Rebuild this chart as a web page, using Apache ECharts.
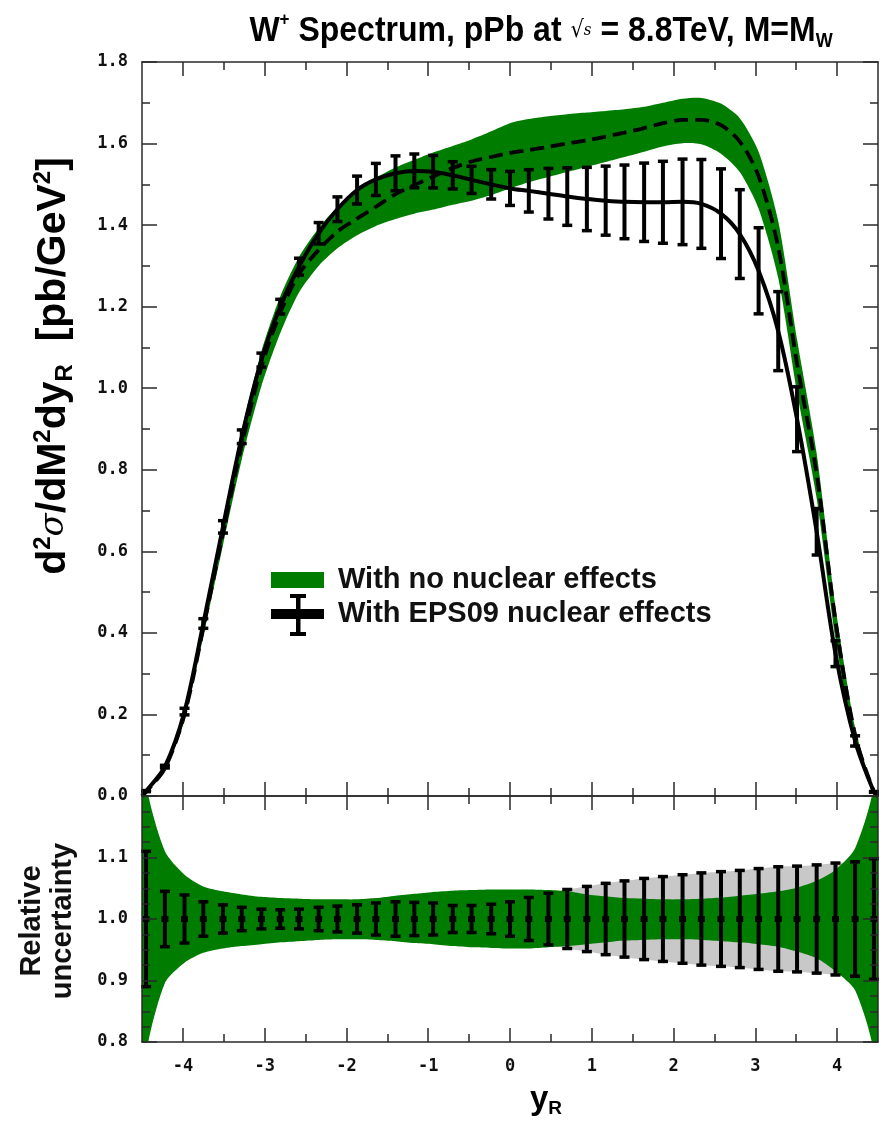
<!DOCTYPE html>
<html>
<head>
<meta charset="utf-8">
<script src="https://cdn.jsdelivr.net/npm/echarts@6/dist/echarts.min.js"></script>
<style>
  html, body { margin: 0; padding: 0; background: #ffffff; }
  #chart { width: 890px; height: 1122px; }
</style>
</head>
<body>
<div id="chart"></div>
<script>
// Rapidity grid (y_R) on which the spectra are evaluated
const rapidity = [-4.5, -4.45, -4.22, -3.98, -3.75, -3.51, -3.28, -3.04, -2.81, -2.58, -2.34, -2.11, -1.87, -1.64, -1.40, -1.17, -0.94, -0.70, -0.47, -0.23, 0.00, 0.23, 0.47, 0.70, 0.94, 1.17, 1.40, 1.64, 1.87, 2.11, 2.34, 2.58, 2.81, 3.04, 3.28, 3.51, 3.75, 3.98, 4.22, 4.45, 4.5];

// d2sigma/dM2dy_R [pb/GeV^2], central value with EPS09 nuclear effects
const eps09Central = [0, 0.012, 0.072, 0.207, 0.423, 0.660, 0.881, 1.069, 1.200, 1.298, 1.380, 1.439, 1.486, 1.512, 1.527, 1.533, 1.531, 1.522, 1.511, 1.500, 1.490, 1.484, 1.477, 1.470, 1.464, 1.460, 1.457, 1.456, 1.456, 1.457, 1.452, 1.428, 1.378, 1.288, 1.140, 0.924, 0.648, 0.349, 0.135, 0.010, 0];

// central value with no nuclear effects
const noNuclearCentral = [0, 0.010, 0.068, 0.200, 0.412, 0.645, 0.862, 1.052, 1.185, 1.280, 1.339, 1.384, 1.416, 1.445, 1.476, 1.498, 1.519, 1.540, 1.556, 1.567, 1.577, 1.584, 1.592, 1.600, 1.608, 1.617, 1.627, 1.638, 1.650, 1.658, 1.658, 1.645, 1.605, 1.520, 1.345, 1.060, 0.790, 0.430, 0.150, 0.010, 0];

// uncertainty band of the no-nuclear-effects spectrum (upper / lower edge)
const noNuclearBandUpper = [0, 0.012, 0.075, 0.214, 0.432, 0.676, 0.897, 1.090, 1.225, 1.322, 1.392, 1.445, 1.487, 1.516, 1.541, 1.560, 1.578, 1.594, 1.610, 1.630, 1.650, 1.660, 1.667, 1.672, 1.676, 1.680, 1.684, 1.690, 1.700, 1.710, 1.712, 1.698, 1.662, 1.580, 1.410, 1.120, 0.840, 0.465, 0.168, 0.012, 0];
const noNuclearBandLower = [0, 0.008, 0.061, 0.186, 0.392, 0.615, 0.825, 1.005, 1.135, 1.235, 1.300, 1.343, 1.375, 1.398, 1.415, 1.428, 1.438, 1.450, 1.460, 1.474, 1.490, 1.505, 1.518, 1.530, 1.543, 1.555, 1.567, 1.580, 1.593, 1.601, 1.598, 1.575, 1.530, 1.440, 1.270, 0.990, 0.730, 0.385, 0.130, 0.008, 0];

// relative uncertainty band, no nuclear effects (upper / lower edge)
const noNuclearRelUpper = [1.50, 1.224, 1.110, 1.072, 1.053, 1.045, 1.040, 1.036, 1.034, 1.033, 1.032, 1.032, 1.032, 1.034, 1.038, 1.041, 1.044, 1.046, 1.047, 1.048, 1.048, 1.048, 1.047, 1.045, 1.040, 1.037, 1.034, 1.033, 1.032, 1.032, 1.033, 1.035, 1.038, 1.041, 1.045, 1.051, 1.062, 1.080, 1.115, 1.220, 1.50];
const noNuclearRelLower = [0.50, 0.776, 0.896, 0.929, 0.945, 0.952, 0.956, 0.959, 0.962, 0.964, 0.966, 0.967, 0.967, 0.966, 0.964, 0.961, 0.959, 0.956, 0.954, 0.953, 0.952, 0.952, 0.954, 0.956, 0.959, 0.962, 0.965, 0.966, 0.967, 0.967, 0.966, 0.964, 0.962, 0.959, 0.955, 0.947, 0.936, 0.915, 0.884, 0.780, 0.50];

// symmetric relative uncertainty with EPS09 nuclear effects
const eps09RelError = [0.110, 0.110, 0.045, 0.039, 0.028, 0.023, 0.019, 0.016, 0.015, 0.016, 0.019, 0.021, 0.023, 0.026, 0.028, 0.027, 0.026, 0.022, 0.022, 0.024, 0.028, 0.035, 0.042, 0.048, 0.053, 0.058, 0.062, 0.066, 0.069, 0.072, 0.075, 0.077, 0.079, 0.082, 0.085, 0.086, 0.088, 0.091, 0.093, 0.098, 0.098];

// axes
const xRange = [-4.5, 4.5];
const xMajorTicks = [-4, -3, -2, -1, 0, 1, 2, 3, 4];
const xMinorTicks = [-3.5, -2.5, -1.5, -0.5, 0.5, 1.5, 2.5, 3.5];
const spectrumTickLabels = [0, 0.2, 0.4, 0.6, 0.8, 1.0, 1.2, 1.4, 1.6, 1.8];
const ratioTickLabels = [0.8, 0.9, 1.0, 1.1];

const GREEN = '#007d00';
const GRAY = '#c8c8c8';
const FRAME = '#2a2a2a';
const TEXT = '#111111';
const SANS = 'Liberation Sans, Arial, Helvetica, sans-serif';
const tickFont = { fontFamily: 'DejaVu Sans Mono', fontWeight: 'bold', fontSize: 17, color: TEXT };

// derived series tables
const zip = (xs, ys) => xs.map((x, i) => [x, ys[i]]);
const grayUpper = eps09RelError.map(e => 1 + e);
const grayLower = eps09RelError.map(e => 1 - e);
const barIdx = rapidity.map((x, i) => i).filter(i => Math.abs(rapidity[i]) < 4.5);
const spectrumBars = barIdx.map(i => [rapidity[i], eps09Central[i] * (1 - eps09RelError[i]), eps09Central[i] * (1 + eps09RelError[i]), eps09Central[i]]);
const ratioBars = barIdx.map(i => [rapidity[i], 1 - eps09RelError[i], 1 + eps09RelError[i], 1]);

const tickLine = { color: FRAME, width: 1.5 };

function xAxesFor(gridIndex, withLabels) {
  const base = { type: 'value', gridIndex, min: xRange[0], max: xRange[1], splitLine: { show: false }, z: 10 };
  const line = { show: true, onZero: false, lineStyle: { color: FRAME, width: 1.5 } };
  return [
    Object.assign({}, base, { position: 'bottom', axisLine: line,
      axisTick: { show: true, inside: true, length: 14, customValues: xMajorTicks, lineStyle: tickLine },
      axisLabel: Object.assign({ show: withLabels, customValues: xMajorTicks, margin: 16 }, tickFont) }),
    Object.assign({}, base, { position: 'bottom', axisLine: { show: false, onZero: false },
      axisTick: { show: true, inside: true, length: 8, customValues: xMinorTicks, lineStyle: tickLine },
      axisLabel: { show: false } }),
    Object.assign({}, base, { position: 'top', axisLine: line,
      axisTick: { show: true, inside: true, length: 14, customValues: xMajorTicks, lineStyle: tickLine },
      axisLabel: { show: false } }),
    Object.assign({}, base, { position: 'top', axisLine: { show: false, onZero: false },
      axisTick: { show: true, inside: true, length: 8, customValues: xMinorTicks, lineStyle: tickLine },
      axisLabel: { show: false } })
  ];
}

function yAxesFor(gridIndex, min, max, interval, minorSplit, labels) {
  const base = { type: 'value', gridIndex, min, max, interval, splitLine: { show: false }, z: 10,
    axisLine: { show: true, onZero: false, lineStyle: { color: FRAME, width: 1.5 } },
    axisTick: { show: true, inside: true, length: 15, lineStyle: tickLine },
    minorTick: { show: true, splitNumber: minorSplit, length: 8, lineStyle: tickLine },
    minorSplitLine: { show: false } };
  return [
    Object.assign({}, base, { position: 'left',
      axisLabel: Object.assign({ show: true, customValues: labels, margin: 14, formatter: v => v.toFixed(1) }, tickFont) }),
    Object.assign({}, base, { position: 'right', axisLabel: { show: false } })
  ];
}

// filled band between two edges, drawn through the axis scales
function bandSeries(xAxisIndex, yAxisIndex, lower, upper, color, z) {
  return {
    type: 'custom', xAxisIndex, yAxisIndex, z, silent: true,
    data: [[rapidity[0], lower[0]]],
    renderItem(params, api) {
      const pts = [];
      for (let i = 0; i < rapidity.length; i++) pts.push(api.coord([rapidity[i], upper[i]]));
      const closeEnds = upper[0] === lower[0];
      const start = closeEnds ? rapidity.length - 2 : rapidity.length - 1;
      const end = closeEnds ? 1 : 0;
      for (let i = start; i >= end; i--) pts.push(api.coord([rapidity[i], lower[i]]));
      const cs = params.coordSys;
      return {
        type: 'polygon',
        shape: { points: pts, smooth: 0.25 },
        style: { fill: color, stroke: null },
        clipPath: { type: 'rect', shape: { x: cs.x, y: cs.y, width: cs.width, height: cs.height } }
      };
    }
  };
}

// vertical error bars with caps; data rows are [x, low, high, centre]
function errorBarSeries(xAxisIndex, yAxisIndex, rows, withDot, z) {
  return {
    type: 'custom', xAxisIndex, yAxisIndex, z, silent: true,
    data: rows,
    encode: { x: 0, y: [1, 2] },
    renderItem(params, api) {
      const x = api.value(0);
      const lo = api.coord([x, api.value(1)]);
      const hi = api.coord([x, api.value(2)]);
      const mid = api.coord([x, api.value(3)]);
      const cap = 5;
      const children = [
        { type: 'line', shape: { x1: lo[0], y1: lo[1], x2: hi[0], y2: hi[1] }, style: { stroke: '#000', lineWidth: 4 } },
        { type: 'line', shape: { x1: hi[0] - cap, y1: hi[1], x2: hi[0] + cap, y2: hi[1] }, style: { stroke: '#000', lineWidth: 3.5 } },
        { type: 'line', shape: { x1: lo[0] - cap, y1: lo[1], x2: lo[0] + cap, y2: lo[1] }, style: { stroke: '#000', lineWidth: 3.5 } }
      ];
      if (withDot) {
        children.push({ type: 'rect', shape: { x: mid[0] - 3.5, y: mid[1] - 3, width: 7, height: 6 }, style: { fill: '#000' } });
      }
      return { type: 'group', children };
    }
  };
}

const titleRich = {
  m: { fontFamily: SANS, fontWeight: 'bold', fontSize: 32, color: TEXT, lineHeight: 37 },
  sup: { fontFamily: SANS, fontWeight: 'bold', fontSize: 17, color: TEXT, verticalAlign: 'top', lineHeight: 23 },
  sub: { fontFamily: SANS, fontWeight: 'bold', fontSize: 18, color: TEXT, verticalAlign: 'bottom', lineHeight: 23 },
  rt: { fontFamily: 'DejaVu Serif', fontSize: 21, color: '#444' },
  rs: { fontFamily: 'DejaVu Serif', fontStyle: 'italic', fontSize: 15, color: '#444' }
};

const yTitleRich = {
  m: { fontFamily: SANS, fontWeight: 'bold', fontSize: 41, color: TEXT, lineHeight: 46 },
  sup: { fontFamily: SANS, fontWeight: 'bold', fontSize: 24, color: TEXT, verticalAlign: 'top', lineHeight: 28 },
  sub: { fontFamily: SANS, fontWeight: 'bold', fontSize: 24, color: TEXT, verticalAlign: 'bottom', lineHeight: 28 },
  sig: { fontFamily: 'DejaVu Serif', fontStyle: 'italic', fontSize: 34, color: TEXT }
};

const option = {
  animation: false,
  backgroundColor: '#ffffff',
  grid: [
    { left: 142, top: 62, width: 736, height: 734 },
    { left: 142, top: 796, width: 736, height: 246 }
  ],
  xAxis: xAxesFor(0, false).concat(xAxesFor(1, true)),
  yAxis: yAxesFor(0, 0, 1.8, 0.2, 2, spectrumTickLabels).concat(yAxesFor(1, 0.8, 1.2, 0.1, 4, ratioTickLabels)),
  series: [
    bandSeries(0, 0, noNuclearBandLower, noNuclearBandUpper, GREEN, 1),
    {
      type: 'line', name: 'no nuclear effects', xAxisIndex: 0, yAxisIndex: 0, z: 3,
      data: zip(rapidity, noNuclearCentral), smooth: 0.3, symbol: 'none', silent: true,
      lineStyle: { color: '#000', width: 3.8, type: [14, 7] }
    },
    {
      type: 'line', name: 'EPS09', xAxisIndex: 0, yAxisIndex: 0, z: 4,
      data: zip(rapidity, eps09Central), smooth: 0.3, symbol: 'none', silent: true,
      lineStyle: { color: '#000', width: 4 }
    },
    errorBarSeries(0, 0, spectrumBars, false, 5),
    bandSeries(4, 2, grayLower, grayUpper, GRAY, 1),
    bandSeries(4, 2, noNuclearRelLower, noNuclearRelUpper, GREEN, 2),
    errorBarSeries(4, 2, ratioBars, true, 5)
  ],
  graphic: [
    { type: 'text', x: 541, y: 31, scaleY: 1.12, z: 20,
      style: { text: '{m|W}{sup|+}{m| Spectrum, pPb at }{rt|√}{rs|s}{m| = 8.8TeV, M=M}{sub|W}', rich: titleRich, align: 'center', verticalAlign: 'middle' } },
    { type: 'text', x: 54, y: 366, rotation: Math.PI / 2, z: 20,
      style: { text: '{m|d}{sup|2}{sig|σ}{m|/dM}{sup|2}{m|dy}{sub|R}{m|  [pb/GeV}{sup|2}{m|]}', rich: yTitleRich, align: 'center', verticalAlign: 'middle' } },
    { type: 'text', x: 47, y: 921, rotation: Math.PI / 2, z: 20,
      style: { text: 'Relative\nuncertainty', fontFamily: SANS, fontWeight: 'bold', fontSize: 29, lineHeight: 31, fill: TEXT, align: 'center', verticalAlign: 'middle' } },
    { type: 'text', x: 546, y: 1100, z: 20,
      style: { text: '{m|y}{sub|R}', rich: {
        m: { fontFamily: SANS, fontWeight: 'bold', fontSize: 33, color: TEXT, lineHeight: 36 },
        sub: { fontFamily: SANS, fontWeight: 'bold', fontSize: 19, color: TEXT, verticalAlign: 'bottom', lineHeight: 24 } },
        align: 'center', verticalAlign: 'middle' } },
    // legend
    { type: 'rect', z: 20, shape: { x: 271, y: 572, width: 53, height: 16 }, style: { fill: GREEN } },
    { type: 'text', x: 338, y: 580, z: 20,
      style: { text: 'With no nuclear effects', fontFamily: SANS, fontWeight: 'bold', fontSize: 29, fill: TEXT, align: 'left', verticalAlign: 'middle' } },
    { type: 'rect', z: 20, shape: { x: 271, y: 609, width: 53, height: 10 }, style: { fill: '#000' } },
    { type: 'rect', z: 20, shape: { x: 296, y: 595, width: 4.5, height: 40 }, style: { fill: '#000' } },
    { type: 'rect', z: 20, shape: { x: 290, y: 594, width: 16, height: 4 }, style: { fill: '#000' } },
    { type: 'rect', z: 20, shape: { x: 290, y: 632, width: 16, height: 4 }, style: { fill: '#000' } },
    { type: 'text', x: 338, y: 614, z: 20,
      style: { text: 'With EPS09 nuclear effects', fontFamily: SANS, fontWeight: 'bold', fontSize: 29, fill: TEXT, align: 'left', verticalAlign: 'middle' } }
  ]
};

const chart = echarts.init(document.getElementById('chart'), null, { renderer: 'canvas' });
chart.setOption(option);
</script>
</body>
</html>
